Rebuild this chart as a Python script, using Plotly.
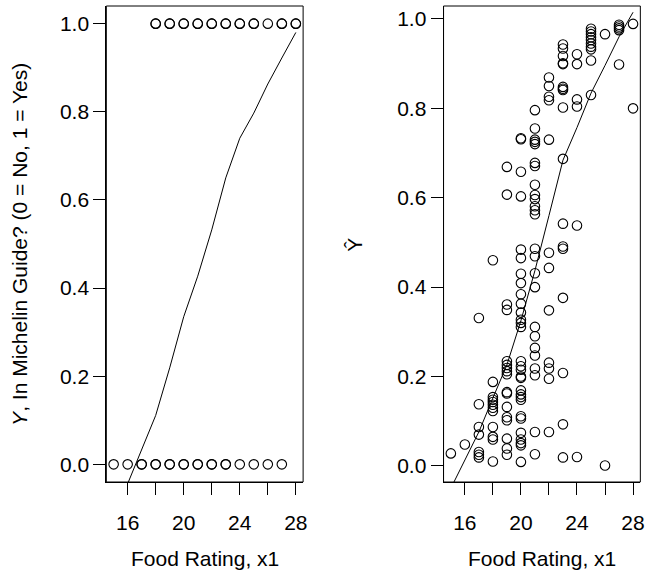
import plotly.graph_objects as go

# ---------------- data ----------------
# Left panel: observed outcome (0 = not in guide, 1 = in guide) by food rating
# (repeated values mark over-plotted restaurants)
no_ratings = [15, 16, 17, 17, 18, 18, 19, 19, 20, 20, 21, 21, 22, 22, 23, 23, 24, 25, 26, 27]
yes_ratings = [18, 18, 19, 19, 20, 20, 21, 21, 22, 22, 23, 23, 24, 24, 25, 25, 26, 27, 27, 28, 28]

# Left panel smooth curve
smooth_left_x = [16, 17, 18, 19, 20, 21, 22, 23, 24, 25, 26, 27, 28]
smooth_left_y = [-0.044, 0.034, 0.111, 0.219, 0.335, 0.427, 0.532, 0.65, 0.74, 0.797, 0.863, 0.922, 0.98]

# Right panel: fitted values (Y-hat) per food rating
yhat_15 = [0.028]
yhat_16 = [0.048]
yhat_17 = [0.331, 0.138, 0.087, 0.070, 0.031, 0.025, 0.019]
yhat_18 = [0.46, 0.188, 0.154, 0.148, 0.143, 0.137, 0.130, 0.123, 0.087, 0.065, 0.059, 0.010]
yhat_19 = [0.669, 0.607, 0.361, 0.349, 0.234, 0.226, 0.219, 0.212, 0.205, 0.165, 0.162,
           0.132, 0.109, 0.102, 0.061, 0.039, 0.025]
yhat_20 = [0.733, 0.731, 0.658, 0.603, 0.484, 0.465, 0.430, 0.409, 0.384, 0.363, 0.343,
           0.327, 0.320, 0.311, 0.234, 0.223, 0.215, 0.200, 0.197, 0.169, 0.160, 0.154,
           0.148, 0.111, 0.106, 0.074, 0.059, 0.051, 0.046, 0.009]
yhat_21 = [0.796, 0.755, 0.730, 0.725, 0.720, 0.678, 0.671, 0.629, 0.606, 0.597, 0.581,
           0.572, 0.563, 0.486, 0.469, 0.431, 0.400, 0.311, 0.290, 0.264, 0.247, 0.218,
           0.203, 0.076, 0.026]
yhat_22 = [0.869, 0.850, 0.826, 0.818, 0.730, 0.477, 0.443, 0.348, 0.231, 0.218, 0.195, 0.076]
yhat_23 = [0.943, 0.934, 0.917, 0.901, 0.899, 0.848, 0.844, 0.841, 0.802, 0.687, 0.542,
           0.491, 0.486, 0.376, 0.208, 0.093, 0.019]
yhat_24 = [0.921, 0.899, 0.820, 0.804, 0.538, 0.020]
yhat_25 = [0.978, 0.972, 0.966, 0.959, 0.953, 0.945, 0.938, 0.932, 0.907, 0.830]
yhat_26 = [0.966, 0.001]
yhat_27 = [0.987, 0.983, 0.979, 0.975, 0.898]
yhat_28 = [0.989, 0.800]

# Right panel smooth curve
smooth_right_x = [15, 16, 17, 18, 19, 20, 21, 22, 23, 24, 25, 26, 27, 28]
smooth_right_y = [-0.05, 0.012, 0.076, 0.152, 0.226, 0.325, 0.437, 0.56, 0.684, 0.757,
                  0.834, 0.896, 0.96, 1.015]

# Axis ticks
x_tickvals = [16, 18, 20, 22, 24, 26, 28]
x_ticktext = ["16", "", "20", "", "24", "", "28"]
y_tickvals = [0.0, 0.2, 0.4, 0.6, 0.8, 1.0]
y_ticktext = ["0.0", "0.2", "0.4", "0.6", "0.8", "1.0"]

# ---------------- build ----------------
groups = [(15, yhat_15), (16, yhat_16), (17, yhat_17), (18, yhat_18), (19, yhat_19),
          (20, yhat_20), (21, yhat_21), (22, yhat_22), (23, yhat_23), (24, yhat_24),
          (25, yhat_25), (26, yhat_26), (27, yhat_27), (28, yhat_28)]
fit_x, fit_y = [], []
for r, vals in groups:
    fit_x += [r] * len(vals)
    fit_y += vals

FONT = "Liberation Sans, Arial, Helvetica, sans-serif"
marker = dict(symbol="circle-open", size=9.5, color="black", line=dict(width=1.1, color="black"))

fig = go.Figure()
fig.add_trace(go.Scatter(x=no_ratings, y=[0] * len(no_ratings), mode="markers",
                         marker=marker, xaxis="x", yaxis="y", cliponaxis=False))
fig.add_trace(go.Scatter(x=yes_ratings, y=[1] * len(yes_ratings), mode="markers",
                         marker=marker, xaxis="x", yaxis="y", cliponaxis=False))
fig.add_trace(go.Scatter(x=smooth_left_x, y=smooth_left_y, mode="lines",
                         line=dict(color="black", width=1), xaxis="x", yaxis="y"))
fig.add_trace(go.Scatter(x=fit_x, y=fit_y, mode="markers", marker=marker,
                         xaxis="x2", yaxis="y2", cliponaxis=False))
fig.add_trace(go.Scatter(x=smooth_right_x, y=smooth_right_y, mode="lines",
                         line=dict(color="black", width=1), xaxis="x2", yaxis="y2"))

W, H = 650, 577


def px(v):
    return v / W


def py(v):
    return (H - v) / H


ydom = [py(482), py(6)]
axis_common = dict(ticks="outside", ticklen=12, tickwidth=1, tickcolor="black",
                   showline=True, linecolor="black", linewidth=1, showgrid=False,
                   zeroline=False, tickfont=dict(family=FONT, size=21, color="black"))

fig.update_layout(
    width=W, height=H, margin=dict(l=0, r=0, t=0, b=0),
    paper_bgcolor="white", plot_bgcolor="white", showlegend=False,
    xaxis=dict(domain=[px(107), px(305)], range=[14.48, 28.52], anchor="y",
               tickvals=x_tickvals, ticktext=x_ticktext, ticklabelstandoff=10, **axis_common),
    yaxis=dict(domain=ydom, range=[-0.04, 1.04], anchor="x",
               tickvals=y_tickvals, ticktext=y_ticktext, **axis_common),
    xaxis2=dict(domain=[px(446.3), px(644.3)], range=[14.48, 28.52], anchor="y2",
                tickvals=x_tickvals, ticktext=x_ticktext, ticklabelstandoff=10, **axis_common),
    yaxis2=dict(domain=ydom, range=[-0.036, 1.029], anchor="x2",
                tickvals=y_tickvals, ticktext=y_ticktext, **axis_common),
)

for xr, yr in [("x domain", "y domain"), ("x2 domain", "y2 domain")]:
    fig.add_shape(type="rect", xref=xr, yref=yr, x0=0, x1=1, y0=0, y1=1,
                  line=dict(color="black", width=1), fillcolor="rgba(0,0,0,0)")

tf = dict(family=FONT, size=21, color="black")
fig.add_annotation(text="Food Rating, x1", xref="paper", yref="paper",
                   x=px(206), y=py(558), showarrow=False, font=tf,
                   xanchor="center", yanchor="middle")
fig.add_annotation(text="Food Rating, x1", xref="paper", yref="paper",
                   x=px(545), y=py(558), showarrow=False, font=tf,
                   xanchor="center", yanchor="middle")
fig.add_annotation(text="<i>Y</i>, In Michelin Guide? (0 = No, 1 = Yes)", xref="paper",
                   yref="paper", x=px(19), y=py(244), showarrow=False, font=tf,
                   textangle=-90, xanchor="center", yanchor="middle")
fig.add_annotation(text="Ŷ", xref="paper", yref="paper",
                   x=px(357), y=py(245), showarrow=False, font=tf,
                   textangle=-90, xanchor="center", yanchor="middle")

# remove the default page margin so the 650x577 figure fills the window exactly
fig.write_html("out.html", config={"displayModeBar": False},
               post_script="document.body.style.margin='0';document.body.style.overflow='hidden';")
